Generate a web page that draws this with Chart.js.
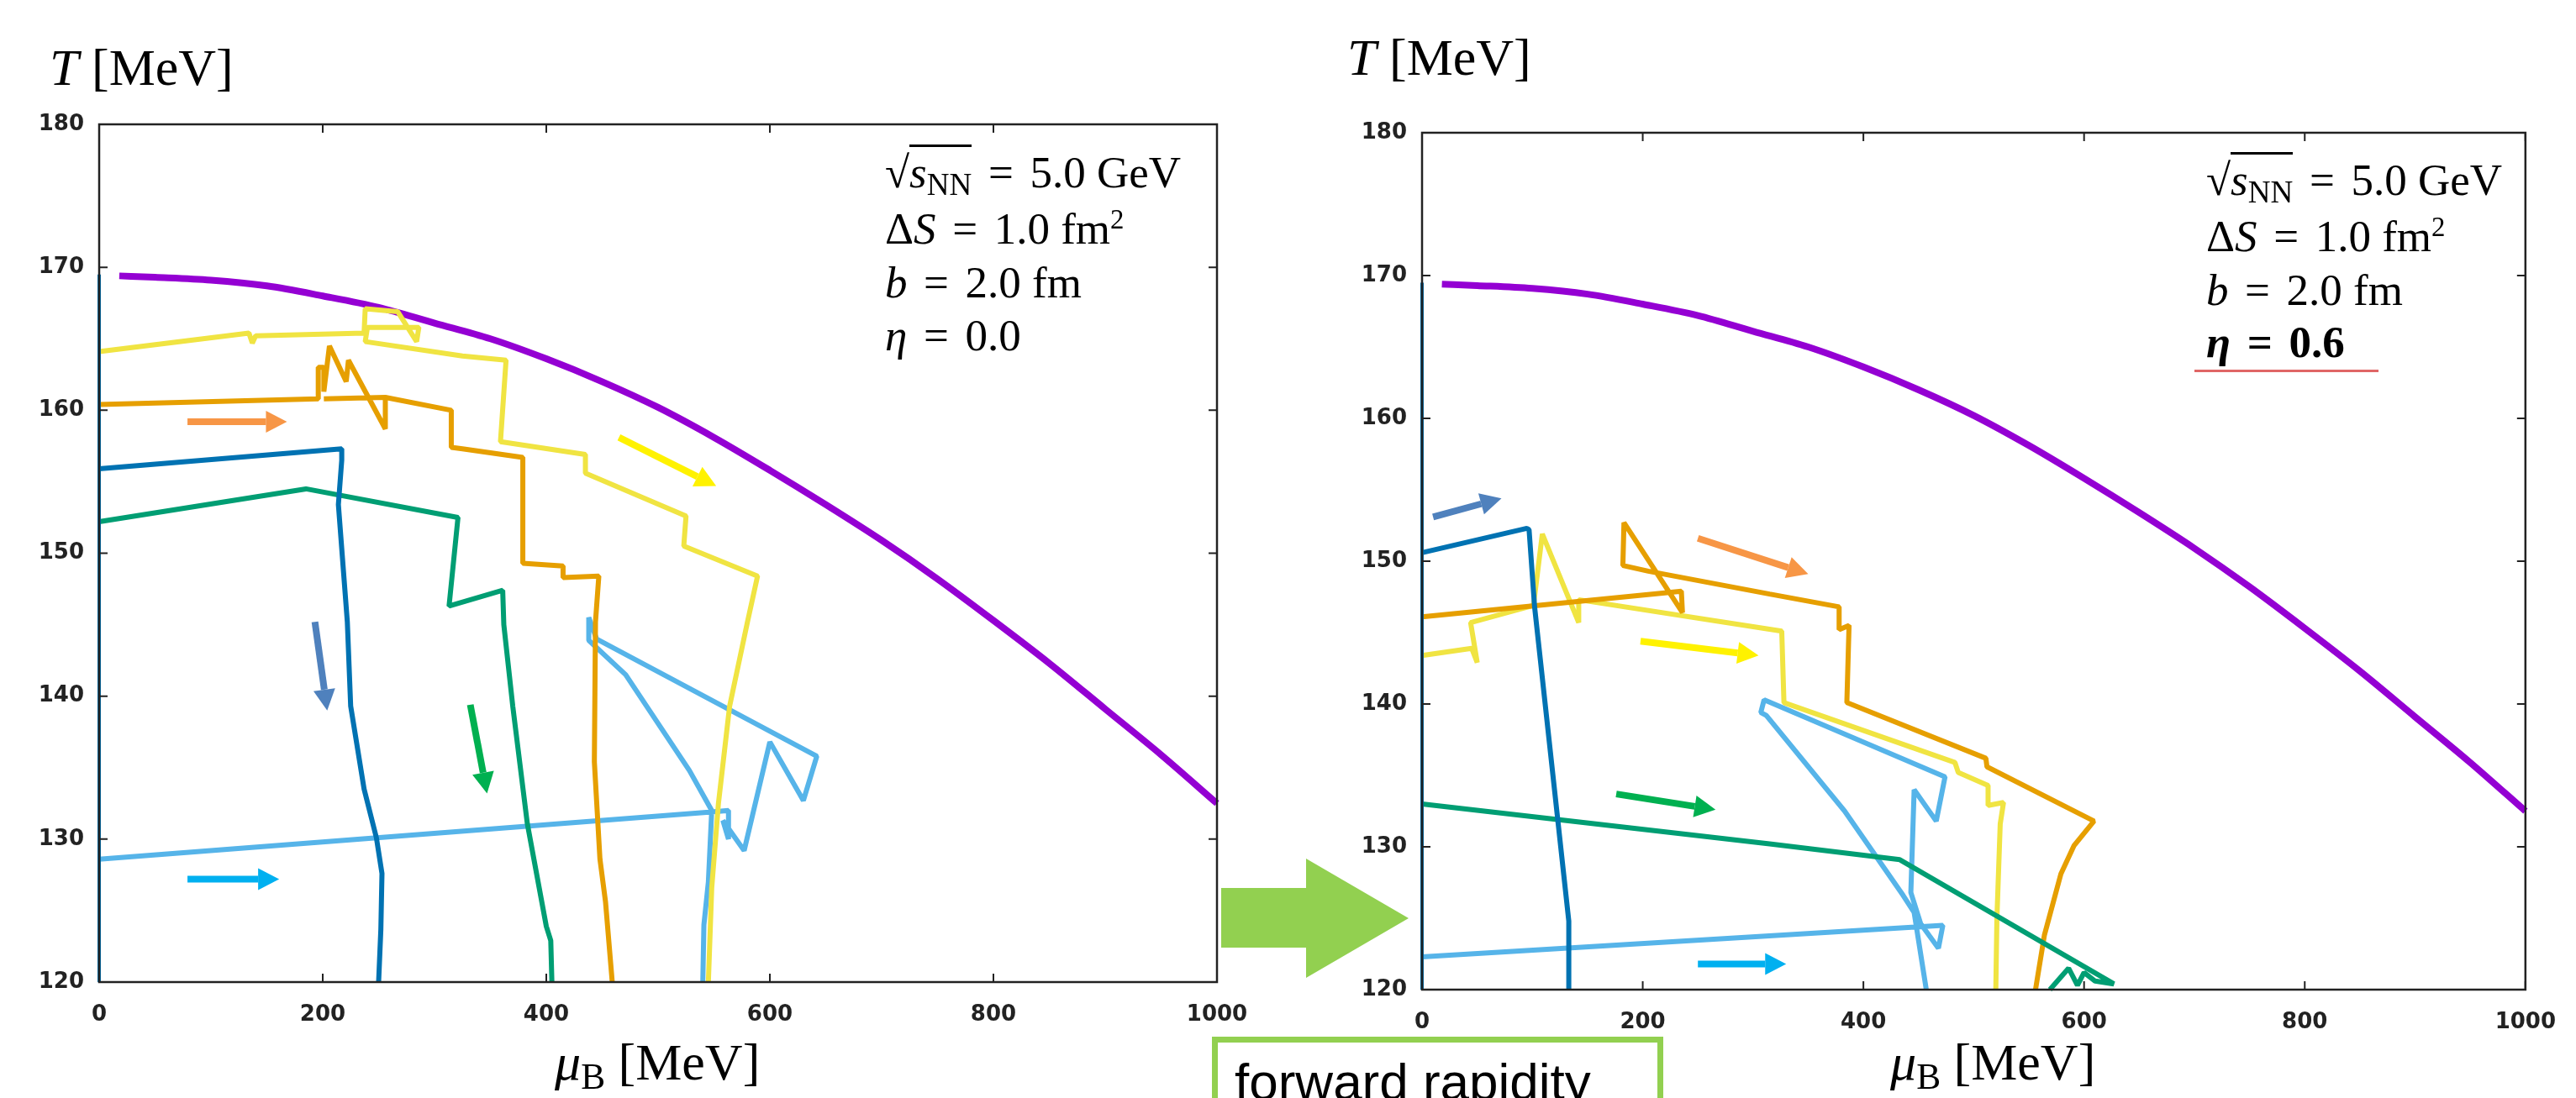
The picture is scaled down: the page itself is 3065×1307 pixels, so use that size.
<!DOCTYPE html>
<html>
<head>
<meta charset="utf-8">
<script src="https://cdn.jsdelivr.net/npm/chart.js@4.4.1/dist/chart.umd.min.js"></script>
<style>
  html, body { margin: 0; padding: 0; background: #fff; }
  body { width: 3065px; height: 1307px; position: relative; overflow: hidden; font-family: 'Liberation Serif', serif; color: #000; }
  canvas { position: absolute; top: 0; }
  #chartLeft { left: 0; }
  #chartRight { left: 1574px; }
  .lbl { position: absolute; white-space: nowrap; line-height: 1; }
  .ann { font-size: 53px; }
  .ttl { font-size: 62px; }
  .eq { margin: 0 0.12em; }
  sub { font-size: 0.7em; vertical-align: -0.25em; line-height: 0; }
  sup { font-size: 0.62em; vertical-align: 0.55em; line-height: 0; }
  .rad { border-top: 3px solid #000; padding-top: 1px; }
  #fwdBox { position: absolute; left: 1442px; top: 1234px; width: 537px; height: 200px; box-sizing: border-box; border: 7px solid #92D050; }
  #fwdText { position: absolute; left: 1469px; top: 1257px; font-family: 'Liberation Sans', sans-serif; font-size: 62px; line-height: 1; white-space: nowrap; }
  #underline { position: absolute; left: 2611px; top: 440px; width: 219px; height: 3px; background: #e06666; }
  svg { position: absolute; left: 0; top: 0; }
</style>
</head>
<body>
<canvas id="chartLeft" width="1520" height="1307"></canvas>
<canvas id="chartRight" width="1491" height="1307"></canvas>

<!-- axis titles -->
<div class="lbl ttl" style="left:59px; top:49px;"><i>T</i> [MeV]</div>
<div class="lbl ttl" style="left:1603px; top:37px;"><i>T</i> [MeV]</div>
<div class="lbl ttl" style="left:660px; top:1233px;"><i>μ</i><sub>B</sub> [MeV]</div>
<div class="lbl ttl" style="left:2249px; top:1233px;"><i>μ</i><sub>B</sub> [MeV]</div>

<!-- parameters, η = 0.0 -->
<div class="lbl ann" style="left:1053px; top:179px;">√<span class="rad"><i>s</i><sub>NN</sub></span><span class="eq"> = </span>5.0 GeV</div>
<div class="lbl ann" style="left:1053px; top:246px;">Δ<i>S</i><span class="eq"> = </span>1.0 fm<sup>2</sup></div>
<div class="lbl ann" style="left:1053px; top:310px;"><i>b</i><span class="eq"> = </span>2.0 fm</div>
<div class="lbl ann" style="left:1053px; top:373px;"><i>η</i><span class="eq"> = </span>0.0</div>

<!-- parameters, η = 0.6 -->
<div class="lbl ann" style="left:2625px; top:188px;">√<span class="rad"><i>s</i><sub>NN</sub></span><span class="eq"> = </span>5.0 GeV</div>
<div class="lbl ann" style="left:2625px; top:255px;">Δ<i>S</i><span class="eq"> = </span>1.0 fm<sup>2</sup></div>
<div class="lbl ann" style="left:2625px; top:319px;"><i>b</i><span class="eq"> = </span>2.0 fm</div>
<div class="lbl ann" style="left:2625px; top:381px; font-weight:bold;"><i>η</i><span class="eq"> = </span>0.6</div>
<div id="underline"></div>

<svg width="3065" height="1307">
  <polygon points="1453,1057 1554,1057 1554,1022 1676,1093 1554,1164 1554,1128 1453,1128" fill="#92D050"/>
</svg>
<div id="fwdBox"></div>
<div id="fwdText">forward rapidity</div>

<script>
// crossover line, same in both panels
const crossMu = [18, 50, 100, 150, 200, 250, 300, 350, 400, 450, 500, 550, 600, 650, 700, 750, 800, 850, 900, 950, 1000];
const crossT = [169.4, 169.3, 169.1, 168.7, 168.0, 167.2, 166.1, 165.0, 163.6, 162.0, 160.2, 158.1, 155.8, 153.4, 150.9, 148.2, 145.3, 142.3, 139.1, 135.9, 132.5];

// trajectory along mu = 0 (both panels)
const axisMu = [0, 0];
const axisT = [169.5, 120];

// eta = 0.0
const blue0Mu = [0, 217, 217, 214, 222, 225, 237, 248, 253, 252, 250];
const blue0T = [155.9, 157.3, 156.5, 153.4, 145.2, 139.3, 133.5, 130.1, 127.6, 123.7, 120];
const green0Mu = [0, 185, 321, 313, 361, 362, 370, 383, 400, 404, 405];
const green0T = [152.2, 154.5, 152.5, 146.3, 147.4, 145.0, 139.3, 131.1, 123.9, 122.9, 120];
const orange0Mu = [0, 196, 196, 201, 201, 206, 221, 223, 256, 256, 201, 256, 315, 315, 325, 379, 379, 415, 415, 447, 444, 443, 448, 453, 459];
const orange0T = [160.4, 160.8, 163.0, 163.0, 161.3, 164.5, 162.0, 163.5, 158.7, 160.9, 160.8, 160.9, 160.0, 157.4, 157.3, 156.7, 149.3, 149.1, 148.3, 148.4, 145.2, 135.4, 128.6, 125.6, 120];
const yellow0Mu = [0, 134, 137, 140, 237, 238, 267, 284, 286, 240, 238, 325, 364, 359, 435, 435, 525, 523, 589, 580, 564, 554, 548, 545];
const yellow0T = [164.1, 165.4, 164.7, 165.2, 165.4, 167.1, 166.9, 164.8, 165.8, 165.8, 164.8, 163.8, 163.5, 157.8, 156.9, 155.6, 152.6, 150.5, 148.4, 145.2, 139.3, 132.5, 126.6, 120];
const light0Mu = [0, 548, 563, 563, 558, 577, 600, 630, 642, 445, 438, 438, 471, 528, 548, 545, 541, 540];
const light0T = [128.6, 131.9, 132.0, 130.0, 131.3, 129.2, 136.8, 132.7, 135.8, 144.0, 145.5, 143.9, 141.5, 134.8, 132.0, 127.0, 124.0, 120];

// eta = 0.6
const blue6Mu = [0, 95, 97, 102, 133, 133];
const blue6T = [150.6, 152.3, 152.2, 146.8, 124.8, 120];
const green6Mu = [0, 315, 433, 627, 610, 600, 594, 586, 569];
const green6T = [133.0, 130.2, 129.1, 120.4, 120.6, 121.2, 120.3, 121.5, 120];
const orange6Mu = [0, 222, 235, 236, 183, 182, 205, 315, 378, 378, 387, 385, 511, 512, 609, 591, 579, 564, 556];
const orange6T = [146.1, 147.8, 147.9, 146.4, 152.7, 149.7, 149.3, 147.7, 146.8, 145.2, 145.5, 140.1, 136.2, 135.6, 131.8, 130.1, 128.1, 123.8, 120];
const yellow6Mu = [0, 45, 50, 44, 101, 109, 142, 142, 326, 328, 483, 486, 513, 513, 527, 524, 521, 520];
const yellow6T = [143.4, 143.9, 142.9, 145.7, 146.9, 151.9, 145.7, 147.3, 145.1, 140.1, 135.9, 135.2, 134.3, 132.9, 133.1, 131.6, 125.0, 120];
const light6Mu = [0, 450, 472, 468, 452, 443, 446, 466, 474, 310, 307, 312, 383, 436, 446, 457];
const light6T = [122.3, 124.4, 124.5, 122.9, 124.6, 126.8, 134.0, 131.8, 134.9, 140.3, 139.4, 139.2, 132.5, 126.6, 125.4, 120];

// direction arrows (data coords): from (mu0,T0) to (mu1,T1)
const arrow0Mu0 = [79, 465, 193, 332, 79];
const arrow0T0 = [159.2, 158.1, 145.2, 139.4, 127.2];
const arrow0Mu1 = [168, 552, 204, 347, 161];
const arrow0T1 = [159.2, 154.7, 139.0, 133.2, 127.2];
const arrow6Mu0 = [10, 250, 198, 176, 250];
const arrow6T0 = [153.1, 151.6, 144.4, 133.7, 121.8];
const arrow6Mu1 = [72, 350, 305, 266, 330];
const arrow6T1 = [154.4, 149.1, 143.4, 132.6, 121.8];

const arrowColors = ['#F79646', '#FFF200', '#4F81BD', '#00B050', '#00B0F0'];
const arrow6Colors = ['#4F81BD', '#F79646', '#FFF200', '#00B050', '#00B0F0'];

const colors = { blue: '#0072B2', green: '#009E73', orange: '#E69F00', yellow: '#F0E442', light: '#56B4E9', cross: '#9400D3' };

const pts = (mu, t) => mu.map((m, i) => ({ x: m, y: t[i] }));

// gnuplot-like frame with inward ticks on all four sides
const framePlugin = {
    id: 'frame',
    afterDatasetsDraw(chart) {
        const { ctx, chartArea: a, scales: { x, y } } = chart;
        ctx.save();
        ctx.strokeStyle = '#222';
        ctx.lineWidth = 2.5;
        ctx.strokeRect(a.left, a.top, a.right - a.left, a.bottom - a.top);
        ctx.lineWidth = 2;
        ctx.beginPath();
        x.ticks.forEach(t => {
            const px = x.getPixelForValue(t.value);
            ctx.moveTo(px, a.bottom); ctx.lineTo(px, a.bottom - 10);
            ctx.moveTo(px, a.top); ctx.lineTo(px, a.top + 10);
        });
        y.ticks.forEach(t => {
            const py = y.getPixelForValue(t.value);
            ctx.moveTo(a.left, py); ctx.lineTo(a.left + 10, py);
            ctx.moveTo(a.right, py); ctx.lineTo(a.right - 10, py);
        });
        ctx.stroke();
        ctx.restore();
    }
};

function arrowPlugin(mu0, t0, mu1, t1, cols) {
    return {
        id: 'dirArrows',
        afterDatasetsDraw(chart) {
            const { ctx, scales: { x, y } } = chart;
            ctx.save();
            mu0.forEach((m, i) => {
                const x0 = x.getPixelForValue(m), y0 = y.getPixelForValue(t0[i]);
                const x1 = x.getPixelForValue(mu1[i]), y1 = y.getPixelForValue(t1[i]);
                const ang = Math.atan2(y1 - y0, x1 - x0);
                const head = 25, half = 13;
                const bx = x1 - head * Math.cos(ang), by = y1 - head * Math.sin(ang);
                ctx.strokeStyle = cols[i];
                ctx.fillStyle = cols[i];
                ctx.lineWidth = 8;
                ctx.lineCap = 'butt';
                ctx.beginPath();
                ctx.moveTo(x0, y0);
                ctx.lineTo(bx, by);
                ctx.stroke();
                ctx.beginPath();
                ctx.moveTo(x1, y1);
                ctx.lineTo(bx + half * Math.sin(ang), by - half * Math.cos(ang));
                ctx.lineTo(bx - half * Math.sin(ang), by + half * Math.cos(ang));
                ctx.closePath();
                ctx.fill();
            });
            ctx.restore();
        }
    };
}

const tickFont = { family: "'DejaVu Sans', sans-serif", size: 26, weight: 'bold' };

function drawPanel(id, sets, arrows, pad, xHeight) {
    new Chart(document.getElementById(id), {
        type: 'scatter',
        data: {
            datasets: sets.map(s => ({
                data: pts(s[0], s[1]),
                showLine: true,
                borderColor: s[2],
                borderWidth: s[3],
                pointRadius: 0,
                fill: false,
                tension: s[4] ? 0.4 : 0,
                cubicInterpolationMode: s[4] ? 'monotone' : 'default',
                clip: false,
                borderJoinStyle: 'bevel'
            }))
        },
        options: {
            responsive: false,
            animation: false,
            events: [],
            layout: { padding: pad },
            plugins: { legend: { display: false }, tooltip: { enabled: false } },
            scales: {
                x: {
                    type: 'linear', min: 0, max: 1000,
                    grid: { display: false, drawTicks: false },
                    border: { display: false },
                    ticks: { stepSize: 200, padding: 24, font: tickFont, color: '#222', maxRotation: 0,
                             callback: v => String(v) },
                    afterFit: s => { s.height = xHeight; }
                },
                y: {
                    type: 'linear', min: 120, max: 180,
                    grid: { display: false, drawTicks: false },
                    border: { display: false },
                    ticks: { stepSize: 10, padding: 18, font: tickFont, color: '#222',
                             callback: v => String(v) },
                    afterFit: s => { s.width = 118; }
                }
            }
        },
        plugins: [framePlugin, arrows]
    });
}

// first dataset is drawn on top
drawPanel('chartLeft', [
    [axisMu, axisT, colors.blue, 4],
    [blue0Mu, blue0T, colors.blue, 6],
    [green0Mu, green0T, colors.green, 6],
    [orange0Mu, orange0T, colors.orange, 6],
    [yellow0Mu, yellow0T, colors.yellow, 6],
    [light0Mu, light0T, colors.light, 6],
    [crossMu, crossT, colors.cross, 8, true]
], arrowPlugin(arrow0Mu0, arrow0T0, arrow0Mu1, arrow0T1, arrowColors),
   { top: 148, right: 72, left: 0, bottom: 0 }, 138);

drawPanel('chartRight', [
    [axisMu, axisT, colors.blue, 4],
    [blue6Mu, blue6T, colors.blue, 6],
    [green6Mu, green6T, colors.green, 6],
    [orange6Mu, orange6T, colors.orange, 6],
    [yellow6Mu, yellow6T, colors.yellow, 6],
    [light6Mu, light6T, colors.light, 6],
    [crossMu, crossT, colors.cross, 8, true]
], arrowPlugin(arrow6Mu0, arrow6T0, arrow6Mu1, arrow6T1, arrow6Colors),
   { top: 158, right: 46, left: 0, bottom: 0 }, 129);
</script>
</body>
</html>
